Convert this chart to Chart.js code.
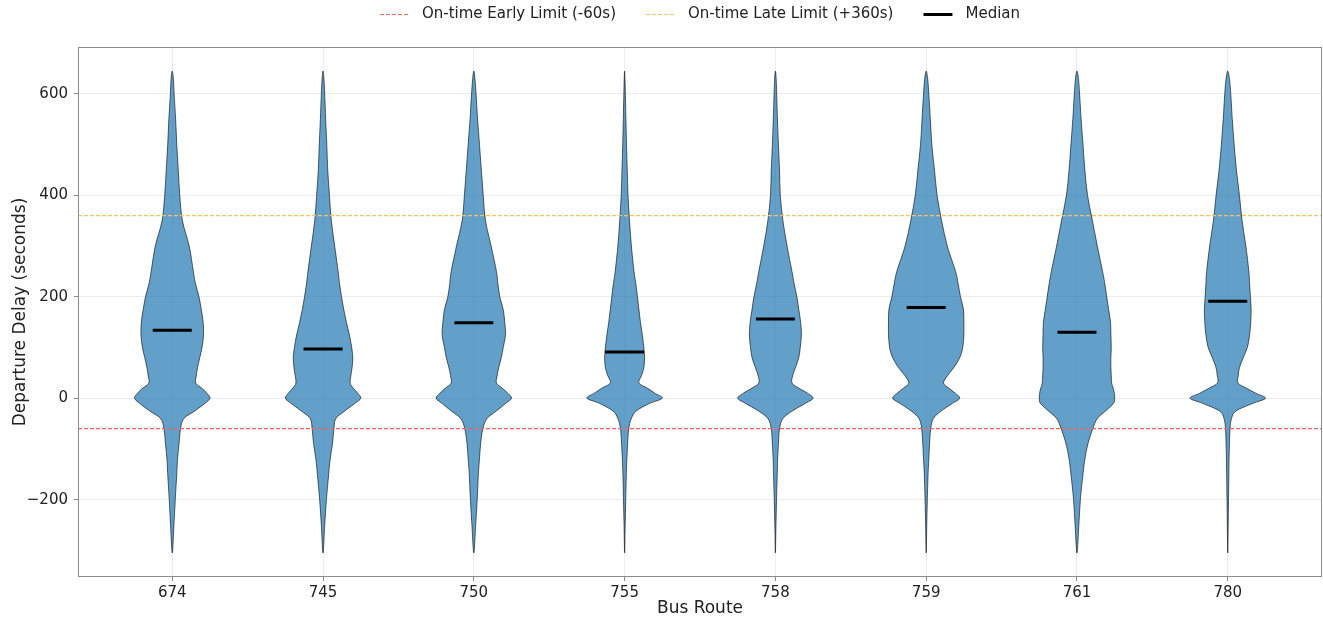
<!DOCTYPE html>
<html>
<head>
<meta charset="utf-8">
<title>Departure delay by bus route</title>
<script src="https://cdn.jsdelivr.net/npm/chart.js@4.4.1/dist/chart.umd.min.js"></script>
<style>
  html,body{margin:0;padding:0;background:#fff}
  #wrap{width:1323px;height:620px}
</style>
</head>
<body>
<div id="wrap"><canvas id="chartViolin" width="1323" height="620"></canvas></div>
<script>
// --- data ------------------------------------------------------------------
const routes = ["674", "745", "750", "755", "758", "759", "761", "780"];

// delay levels (seconds) at which the violin outline was read, bottom -> top
const delayLevels = [-305, -250, -200, -150, -120, -90, -60, -40, -25, -10, 0, 10, 20, 30, 45, 60, 80, 100,
                     125, 150, 175, 200, 225, 250, 300, 350, 400, 450, 500, 550, 600, 630, 645];

// relative density (1 = widest point of that violin) at each delay level
const density674 = [0, 0.045, 0.08, 0.12, 0.14, 0.18, 0.22, 0.31, 0.6, 0.87, 1.0, 0.92, 0.78, 0.62, 0.64, 0.67, 0.73, 0.79,
                    0.83, 0.82, 0.77, 0.71, 0.62, 0.56, 0.45, 0.27, 0.2, 0.16, 0.12, 0.09, 0.05, 0.03, 0];
const density745 = [0, 0.045, 0.09, 0.15, 0.19, 0.25, 0.29, 0.34, 0.58, 0.85, 1.0, 0.92, 0.8, 0.72, 0.74, 0.77, 0.79, 0.76,
                    0.7, 0.62, 0.55, 0.49, 0.44, 0.4, 0.31, 0.22, 0.17, 0.125, 0.1, 0.07, 0.045, 0.025, 0];
const density750 = [0, 0.05, 0.09, 0.12, 0.15, 0.18, 0.24, 0.35, 0.6, 0.85, 1.0, 0.9, 0.75, 0.6, 0.62, 0.66, 0.73, 0.78,
                    0.84, 0.82, 0.78, 0.69, 0.64, 0.6, 0.46, 0.31, 0.25, 0.2, 0.15, 0.1, 0.06, 0.03, 0];
const density755 = [0, 0.015, 0.03, 0.045, 0.06, 0.08, 0.11, 0.18, 0.31, 0.67, 1.0, 0.8, 0.6, 0.38, 0.45, 0.51, 0.53, 0.51,
                    0.47, 0.42, 0.38, 0.34, 0.3, 0.25, 0.18, 0.13, 0.09, 0.07, 0.05, 0.035, 0.02, 0.01, 0];
const density758 = [0, 0.015, 0.03, 0.05, 0.06, 0.08, 0.11, 0.2, 0.45, 0.8, 1.0, 0.85, 0.62, 0.44, 0.46, 0.53, 0.62, 0.66,
                    0.69, 0.67, 0.62, 0.57, 0.5, 0.44, 0.31, 0.2, 0.13, 0.11, 0.08, 0.055, 0.035, 0.02, 0];
const density759 = [0, 0.015, 0.03, 0.05, 0.07, 0.09, 0.12, 0.19, 0.4, 0.7, 0.89, 0.77, 0.6, 0.46, 0.57, 0.73, 0.89, 0.97,
                    1.0, 1.0, 0.99, 0.91, 0.85, 0.78, 0.56, 0.41, 0.29, 0.22, 0.15, 0.11, 0.07, 0.04, 0];
const density761 = [0, 0.05, 0.09, 0.16, 0.21, 0.29, 0.42, 0.54, 0.76, 0.97, 1.0, 0.99, 0.96, 0.92, 0.91, 0.9, 0.9, 0.91,
                    0.9, 0.89, 0.84, 0.79, 0.74, 0.68, 0.54, 0.41, 0.28, 0.21, 0.16, 0.11, 0.07, 0.04, 0];
const density780 = [0, 0.012, 0.02, 0.03, 0.035, 0.045, 0.06, 0.1, 0.22, 0.67, 1.0, 0.74, 0.49, 0.27, 0.28, 0.31, 0.41, 0.52,
                    0.58, 0.61, 0.62, 0.6, 0.58, 0.56, 0.48, 0.38, 0.31, 0.23, 0.17, 0.12, 0.08, 0.045, 0];
const densities = [density674, density745, density750, density755, density758, density759, density761, density780];

const medians = [134, 97, 149, 91, 156, 179, 130, 191];

const yTicks = [-200, 0, 200, 400, 600];
const earlyLimit = -60;
const lateLimit = 360;

// axis extents (matplotlib auto margins around the violins)
const yMin = -352.5, yMax = 692.5;
const xMin = -0.625, xMax = 7.625;

// --- styling ----------------------------------------------------------------
const VIOLIN_HALF = 0.25;             // half of the violin width, in category units
const VIOLIN_FILL = "rgba(31,119,180,0.7)";
const EARLY_COLOR = "#f26666";
const LATE_COLOR = "#f8c165";
const TEXT = "#222";
const FONT = "'DejaVu Sans', sans-serif";

Chart.defaults.font.family = FONT;
Chart.defaults.color = TEXT;

const legendItems = [
  { label: "On-time Early Limit (-60s)", color: EARLY_COLOR, dash: [4, 2], width: 1.2 },
  { label: "On-time Late Limit (+360s)", color: LATE_COLOR, dash: [4, 2], width: 1.2 },
  { label: "Median", color: "#000", dash: [], width: 3 },
];

// closed Catmull-Rom curve through the outline points
function smoothOutline(ctx, pts){
  const n = pts.length;
  ctx.moveTo(pts[0][0], pts[0][1]);
  for (let i = 0; i < n; i++) {
    const p0 = pts[(i - 1 + n) % n], p1 = pts[i], p2 = pts[(i + 1) % n], p3 = pts[(i + 2) % n];
    ctx.bezierCurveTo(p1[0] + (p2[0] - p0[0]) / 6, p1[1] + (p2[1] - p0[1]) / 6,
                      p2[0] - (p3[0] - p1[0]) / 6, p2[1] - (p3[1] - p1[1]) / 6,
                      p2[0], p2[1]);
  }
}

const violinPlugin = {
  id: "violins",
  beforeDatasetsDraw(chart){
    const {ctx, chartArea, scales:{x, y}} = chart;
    ctx.save();
    ctx.beginPath();
    ctx.rect(chartArea.left, chartArea.top, chartArea.width, chartArea.height);
    ctx.clip();
    densities.forEach((dens, i) => {
      const pts = [];
      delayLevels.forEach((lv, k) => {
        if (k < delayLevels.length - 1) pts.push([x.getPixelForValue(i - VIOLIN_HALF * dens[k]), y.getPixelForValue(lv)]);
      });
      for (let k = delayLevels.length - 1; k > 0; k--) {
        pts.push([x.getPixelForValue(i + VIOLIN_HALF * dens[k]), y.getPixelForValue(delayLevels[k])]);
      }
      ctx.beginPath();
      smoothOutline(ctx, pts);
      ctx.closePath();
      ctx.fillStyle = VIOLIN_FILL;
      ctx.fill();
      ctx.strokeStyle = "rgba(0,0,0,0.75)";
      ctx.lineWidth = 0.8;
      ctx.stroke();
    });
    ctx.restore();
  }
};

// frame round the plot + legend strip above it
const framePlugin = {
  id: "frame",
  afterDraw(chart){
    const {ctx, chartArea} = chart;
    ctx.save();
    ctx.strokeStyle = "#8c8c8c";
    ctx.lineWidth = 1;
    ctx.strokeRect(chartArea.left + 0.5, chartArea.top + 0.5, chartArea.width - 1, chartArea.height - 1);

    ctx.font = "15px " + FONT;
    ctx.textBaseline = "middle";
    const sample = 29, gap = 13, itemGap = 30, ly = 14;
    const widths = legendItems.map(it => sample + gap + ctx.measureText(it.label).width);
    const total = widths.reduce((a, w) => a + w, 0) + itemGap * (legendItems.length - 1);
    let lx = (chartArea.left + chartArea.right) / 2 - total / 2;
    legendItems.forEach((it, i) => {
      ctx.beginPath();
      ctx.setLineDash(it.dash);
      ctx.strokeStyle = it.color;
      ctx.lineWidth = it.width;
      ctx.moveTo(lx, ly + 0.5);
      ctx.lineTo(lx + sample, ly + 0.5);
      ctx.stroke();
      ctx.setLineDash([]);
      ctx.fillStyle = TEXT;
      ctx.fillText(it.label, lx + sample + gap, ly);
      lx += widths[i] + itemGap;
    });
    ctx.restore();
  }
};

new Chart(document.getElementById("chartViolin"), {
  type: "scatter",
  data: {
    datasets: [
      { label: "Median", data: medians.map((m, i) => ({x: i, y: m})), order: 0,
        pointStyle: "line", pointRadius: 19.5, pointHoverRadius: 19.5,
        pointBorderWidth: 3, pointHoverBorderWidth: 3, pointBorderColor: "#000", borderColor: "#000" },
      { label: "On-time Early Limit (-60s)", data: [{x: xMin, y: earlyLimit}, {x: xMax, y: earlyLimit}], order: 1,
        showLine: true, borderColor: EARLY_COLOR, borderWidth: 1.3, borderDash: [4, 2], pointRadius: 0 },
      { label: "On-time Late Limit (+360s)", data: [{x: xMin, y: lateLimit}, {x: xMax, y: lateLimit}], order: 1,
        showLine: true, borderColor: LATE_COLOR, borderWidth: 1.3, borderDash: [4, 2], pointRadius: 0 },
    ]
  },
  options: {
    responsive: false,
    animation: false,
    devicePixelRatio: 1,
    layout: { autoPadding: false, padding: { top: 47, right: 1, left: 0, bottom: 0 } },
    plugins: { legend: { display: false }, tooltip: { enabled: false } },
    scales: {
      x: {
        type: "linear", min: xMin, max: xMax,
        afterBuildTicks: s => { s.ticks = routes.map((_, i) => ({value: i})); },
        afterFit: s => { s.height = 43; s.paddingLeft = 0; s.paddingRight = 0; },
        ticks: { autoSkip: false, maxRotation: 0, padding: 3, font: { size: 15 }, color: TEXT,
                 callback: v => routes[v] },
        grid: { color: "#ececec", tickColor: "#8c8c8c", tickLength: 4 },
        border: { display: false },
        title: { display: true, text: "Bus Route", font: { size: 17 }, color: TEXT, padding: { top: 0, bottom: 1 } }
      },
      y: {
        min: yMin, max: yMax,
        afterBuildTicks: s => { s.ticks = yTicks.map(v => ({value: v})); },
        afterFit: s => { s.width = 78; s.paddingTop = 0; s.paddingBottom = 0; },
        ticks: { padding: 6, font: { size: 15 }, color: TEXT,
                 callback: v => v < 0 ? "\u2212" + Math.abs(v) : String(v) },
        grid: { color: "#ececec", tickColor: "#8c8c8c", tickLength: 4 },
        border: { display: false },
        title: { display: true, text: "Departure Delay (seconds)", font: { size: 17 }, color: TEXT, padding: { top: 10, bottom: 0 } }
      }
    }
  },
  plugins: [violinPlugin, framePlugin]
});
</script>
</body>
</html>
